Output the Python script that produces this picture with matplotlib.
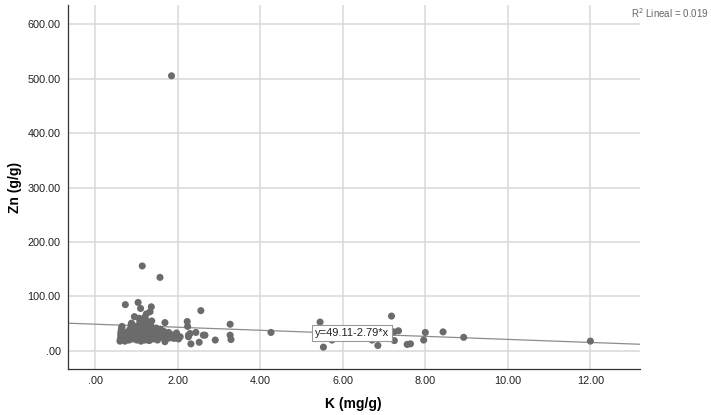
import matplotlib.pyplot as plt
from matplotlib.ticker import FuncFormatter

# K (mg/g) vs Zn (g/g)
K = [0.60, 0.61, 0.62, 0.62, 0.63, 0.64, 0.65,
     0.72, 0.74, 0.75, 0.76, 0.78, 0.73,
     0.82, 0.83, 0.85, 0.86, 0.84, 0.87, 0.88,
     0.91, 0.92, 0.94, 0.95, 0.96, 0.97, 0.95,
     1.01, 1.02, 1.03, 1.04, 1.05, 1.06, 1.07, 1.08, 1.06, 1.04,
     1.11, 1.12, 1.13, 1.14, 1.15, 1.16, 1.17, 1.18, 1.19, 1.20, 1.10, 1.14,
     1.21, 1.22, 1.23, 1.24, 1.25, 1.26, 1.27, 1.28, 1.22, 1.24,
     1.31, 1.32, 1.33, 1.34, 1.35, 1.36, 1.37, 1.33, 1.36,
     1.41, 1.43, 1.45, 1.46, 1.48,
     1.51, 1.53, 1.55, 1.58, 1.57,
     1.62, 1.64, 1.66, 1.69, 1.69,
     1.72, 1.75, 1.78,
     1.81, 1.84, 1.85,
     1.91, 1.94, 1.97,
     2.02, 2.06,
     2.23, 2.24, 2.26, 2.26, 2.30, 2.32, 2.44, 2.52, 2.56, 2.62, 2.66,
     2.91, 3.27, 3.27, 3.29, 4.26,
     5.45, 5.53, 5.74, 6.10, 6.45, 6.71, 6.85,
     7.18, 7.24, 7.25, 7.35, 7.56, 7.64, 7.96, 8.00, 8.43, 8.93, 12.00]
Zn = [18, 22, 28, 33, 38, 42, 45,
      18, 20, 25, 30, 35, 85,
      20, 24, 28, 32, 40, 48, 51,
      22, 26, 30, 35, 38, 45, 63,
      20, 25, 28, 32, 36, 40, 44, 52, 60, 89,
      18, 22, 27, 30, 34, 38, 42, 48, 55, 62, 78, 156,
      20, 24, 28, 33, 37, 41, 46, 50, 58, 68,
      19, 25, 30, 35, 40, 45, 55, 72, 81,
      22, 27, 32, 38, 42,
      20, 28, 33, 40, 135,
      25, 30, 36, 52, 17,
      22, 28, 34,
      24, 30, 505,
      23, 29, 33,
      22, 26,
      54, 45, 29, 26, 32, 13, 34, 16, 74, 29, 29,
      20, 49, 29, 21, 34,
      53, 7, 20, 30, 28, 20, 10,
      64, 35, 19, 37, 12, 13, 20, 34, 35, 25, 18]

INTERCEPT = 49.11
SLOPE = -2.79
R2 = 0.019

X_TICKS = [0, 2, 4, 6, 8, 10, 12]
Y_TICKS = [0, 100, 200, 300, 400, 500, 600]

DOT = '#6b6b6b'
GRID = '#d9d9d9'
FIT = '#8c8c8c'

plt.rcParams['font.family'] = ['Liberation Sans', 'DejaVu Sans']


def spss_fmt(v, _pos):
    # SPSS drops the leading zero: ".00", "2.00"
    s = f"{v:.2f}"
    return s[1:] if s.startswith("0.") else s


fig = plt.figure(figsize=(7.11, 4.15), dpi=100)
ax = fig.add_axes([0.095, 0.111, 0.805, 0.877])

xlim = (-0.67, 13.2)
ax.set_xlim(*xlim)
ax.set_ylim(-33, 635)

ax.set_xticks(X_TICKS)
ax.set_yticks(Y_TICKS)
ax.xaxis.set_major_formatter(FuncFormatter(spss_fmt))
ax.yaxis.set_major_formatter(FuncFormatter(spss_fmt))
ax.tick_params(length=0, labelsize=7.8, colors='#222222', pad=5)
ax.grid(True, color=GRID, linewidth=1.1)
ax.set_axisbelow(True)

for side in ('top', 'right'):
    ax.spines[side].set_visible(False)
for side in ('left', 'bottom'):
    ax.spines[side].set_color('#333333')
    ax.spines[side].set_linewidth(0.9)

# Fit line across the whole x range
ax.plot(xlim, [INTERCEPT + SLOPE * xlim[0], INTERCEPT + SLOPE * xlim[1]],
        color=FIT, linewidth=0.9, zorder=2)

ax.scatter(K, Zn, s=26, color=DOT, edgecolors='none', zorder=3)

ax.text(6.23, 33, f"y={INTERCEPT:.2f}{SLOPE:.2f}*x", fontsize=8, color='#222222',
        ha='center', va='center', zorder=4,
        bbox=dict(boxstyle='square,pad=0.25', facecolor='white', edgecolor='#999999', linewidth=0.8))

fig.text(0.997, 0.968, f"R$^2$ Lineal = {R2:.3f}", fontsize=7, color='#666666', ha='right', va='center')

ax.set_xlabel("K (mg/g)", fontsize=10, fontweight='bold', labelpad=8)
ax.set_ylabel("Zn (g/g)", fontsize=10, fontweight='bold', labelpad=4)

fig.savefig("out.png", dpi=100)
